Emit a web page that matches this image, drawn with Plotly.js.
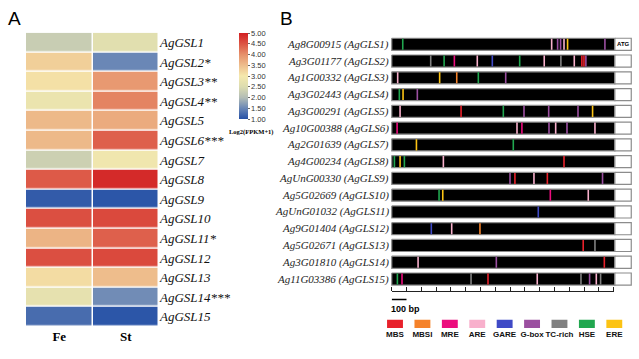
<!DOCTYPE html>
<html><head><meta charset="utf-8">
<script src="https://cdn.plot.ly/plotly-3.0.1.min.js"></script>
<style>html,body{margin:0;padding:0;background:#fff}#chart{width:639px;height:359px}</style>
</head><body><div id="chart"></div>
<script>
const W = 639, H = 359;

// ---- Panel A data ----
const heatGenes = ['AgGSL1','AgGSL2*','AgGSL3**','AgGSL4**','AgGSL5','AgGSL6***','AgGSL7','AgGSL8','AgGSL9','AgGSL10','AgGSL11*','AgGSL12','AgGSL13','AgGSL14***','AgGSL15'];
const samples = ['Fe','St'];
const feValues = [2.25,3.3,3.1,2.8,3.55,3.55,2.3,4.45,1.1,4.55,3.6,4.55,3.15,2.7,1.25];
const stValues = [2.6,1.5,3.9,4.1,3.7,4.4,2.9,4.9,1.05,4.6,4.4,4.6,3.5,1.55,1.05];
const colorTicks = [1,1.5,2,2.5,3,3.5,4,4.5,5];
const colorTitle = 'Log2(FPKM+1)';

// ---- Panel B data ----
const promoterNames = ['Ag8G00915 (AgGLS1)','Ag3G01177 (AgGLS2)','Ag1G00332 (AgGLS3)','Ag3G02443 (AgGLS4)','Ag3G00291 (AgGLS5)','Ag10G00388 (AgGLS6)','Ag2G01639 (AgGLS7)','Ag4G00234 (AgGLS8)','AgUnG00330 (AgGLS9)','Ag5G02669 (AgGLS10)','AgUnG01032 (AgGLS11)','Ag9G01404 (AgGLS12)','Ag5G02671 (AgGLS13)','Ag3G01810 (AgGLS14)','Ag11G03386 (AgGLS15)'];
const promoterLength = 1500;
const startBoxLength = 110;
const motifTypes = ['MBS','MBSI','MRE','ARE','GARE','G-box','TC-rich','HSE','ERE'];
const motifColors = ['#e8212b','#f5822a','#ec0d7e','#f8b0cc','#3f4ac6','#9b4fa0','#808080','#21a74f','#fcc314'];
// sites: gene row (1-15), motif type, position relative to ATG (bp)
const siteGene = [1,1,1,1,1,1,1,
  2,2,2,2,2,2,2,2,2,2,2,2,
  3,3,3,3,3,
  4,4,4,
  5,5,5,5,5,5,5,
  6,6,6,6,6,6,6,
  7,7,
  8,8,8,8,8,
  9,9,9,9,9,
  10,10,10,10,
  11,
  12,12,12,
  13,13,
  14,14,14,
  15,15,15,15,15,15,15,15,15];
const siteType = ['HSE','ARE','G-box','G-box','ARE','ERE','G-box',
  'TC-rich','HSE','MRE','ARE','GARE','HSE','ARE','TC-rich','ARE','MBS','MBS','G-box',
  'ARE','ERE','MBSI','HSE','G-box',
  'HSE','ERE','G-box',
  'ARE','MBS','HSE','G-box','G-box','G-box','ERE',
  'MRE','ARE','MRE','G-box','ARE','G-box','ARE',
  'ERE','HSE',
  'HSE','ERE','HSE','ARE','MBS',
  'G-box','MBS','ARE','MBS','G-box',
  'HSE','ERE','MRE','ARE',
  'GARE',
  'GARE','ARE','MBSI',
  'MBS','TC-rich',
  'ARE','G-box','MBS',
  'HSE','MRE','TC-rich','MBS','ARE','TC-rich','G-box','ARE','TC-rich'];
const sitePos = [-1426,-425,-385,-365,-342,-318,-67,
  -1238,-1148,-1079,-925,-824,-640,-475,-363,-273,-222,-208,-195,
  -1460,-1178,-1063,-918,-734,
  -1449,-1424,-1328,
  -1444,-1034,-750,-611,-445,-248,-150,
  -1464,-658,-625,-443,-398,-322,-134,
  -1334,-683,
  -1482,-1444,-1415,-1153,-342,
  -705,-672,-544,-454,-83,
  -1182,-1157,-434,-179,
  -515,
  -1234,-1097,-907,
  -213,-134,
  -1323,-797,-71,
  -1462,-1431,-967,-853,-522,-228,-170,-125,-96];
const scaleBarBp = 100;

// ---- build traces ----
const px = v => v / W, py = v => 1 - v / H;
const traces = [];

traces.push({
  type:'heatmap', x: samples, y: heatGenes,
  z: heatGenes.map((g,i)=>[feValues[i], stValues[i]]),
  xaxis:'x', yaxis:'y', zmin:1, zmax:5, xgap:1.5, ygap:1.5,
  colorscale: [[0,'#2550a6'],[0.125,'#6a87b6'],[0.25,'#b3bdb6'],[0.375,'#dcdcb0'],[0.5,'#f5e9ad'],[0.625,'#eebd8c'],[0.75,'#e6906a'],[0.875,'#dc5444'],[1,'#d21f22']],
  colorbar: {x: px(239), xanchor:'left', xpad:0, y: py(33), yanchor:'top', ypad:0,
    lenmode:'pixels', len:86, thickness:9, outlinewidth:0,
    tickvals: colorTicks, ticktext: colorTicks.map(v=>v.toFixed(2)),
    tickfont:{family:'Liberation Sans', size:7.5, color:'#333'},
    ticks:'outside', ticklen:2, tickcolor:'#666'},
  hoverinfo:'skip'
});

const rows = promoterNames.map((n,i)=>i+1);
const half = 0.36;
function boxes(x0, x1){
  const xs=[], ys=[];
  rows.forEach(r=>{ xs.push(x0,x1,x1,x0,x0,null); ys.push(r-half,r-half,r+half,r+half,r-half,null); });
  return {xs, ys};
}
const prom = boxes(-promoterLength, 0);
traces.push({type:'scatter', mode:'lines', xaxis:'x2', yaxis:'y2', x:prom.xs, y:prom.ys, fill:'toself',
  fillcolor:'#000', line:{color:'#8c8c8c', width:1.2}, hoverinfo:'skip'});
const start = boxes(0, startBoxLength);
traces.push({type:'scatter', mode:'lines', xaxis:'x2', yaxis:'y2', x:start.xs, y:start.ys, fill:'toself',
  fillcolor:'#fff', line:{color:'#8c8c8c', width:1.2}, hoverinfo:'skip'});

motifTypes.forEach((m,k)=>{
  const xs=[], ys=[];
  siteType.forEach((t,i)=>{ if(t===m){ xs.push(sitePos[i],sitePos[i],null); ys.push(siteGene[i]-half+0.03,siteGene[i]+half-0.03,null);} });
  traces.push({type:'scatter', mode:'lines', xaxis:'x2', yaxis:'y2', x:xs, y:ys,
    line:{color:motifColors[k], width:1.6}, hoverinfo:'skip'});
});

// scale bar
traces.push({type:'scatter', mode:'lines', xaxis:'x3', yaxis:'y3',
  x:[-promoterLength, -promoterLength+scaleBarBp], y:[0.4,0.4], line:{color:'#000', width:1.5}, hoverinfo:'skip'});

// legend swatches
traces.push({type:'bar', xaxis:'x4', yaxis:'y4', x: motifTypes, y: motifTypes.map(()=>1), width:0.58,
  marker:{color: motifColors}, hoverinfo:'skip'});

const annotations = [
  {text:'A', xref:'paper', yref:'paper', x:px(14), y:py(19), xanchor:'center', yanchor:'middle', showarrow:false, font:{size:19, family:'Liberation Sans'}},
  {text:'B', xref:'paper', yref:'paper', x:px(286), y:py(19), xanchor:'center', yanchor:'middle', showarrow:false, font:{size:19, family:'Liberation Sans'}},
  {text:colorTitle, xref:'paper', yref:'paper', x:px(252), y:py(132), xanchor:'center', yanchor:'middle', showarrow:false, font:{size:6.5, family:'Liberation Serif', weight:'bold'}},
  {text:'100 bp', xref:'x3', yref:'paper', x:-promoterLength, xanchor:'left', y:py(309), yanchor:'middle', showarrow:false, xshift:-3, font:{size:9, family:'Liberation Sans', weight:'bold'}},
  {text:'ATG', xref:'x2', yref:'y2', x:startBoxLength/2, y:1, xanchor:'center', yanchor:'middle', showarrow:false, font:{size:6, family:'Liberation Sans', weight:'bold'}}
];
promoterNames.forEach((n,i)=>annotations.push({text:n, xref:'paper', yref:'y2', x:px(389.5), y:rows[i],
  xanchor:'right', yanchor:'middle', showarrow:false, borderpad:0,
  font:{family:'Liberation Serif', size:11, style:'italic', color:'#262626', shadow:'none'}}));

const layout = {
  width: W, height: H, margin:{l:0,r:0,t:0,b:0}, showlegend:false,
  paper_bgcolor:'#fff', plot_bgcolor:'#fff', font:{family:'Liberation Sans', color:'#000'},
  xaxis:{domain:[px(26),px(159)], anchor:'y', ticks:'', showgrid:false, zeroline:false, showline:false,
    tickfont:{family:'Liberation Serif', size:13, weight:'bold', color:'#000'}},
  yaxis:{domain:[py(326.7),py(32.7)], anchor:'x', side:'right', autorange:'reversed', ticks:'', showgrid:false, zeroline:false,
    tickfont:{family:'Liberation Serif', size:13, style:'italic', color:'#111'}},
  xaxis2:{domain:[px(391),px(632)], range:[-1505,115], anchor:'y2', showticklabels:false, ticks:'', showgrid:false, zeroline:false, showline:false},
  yaxis2:{domain:[py(287.4),py(35.9)], range:[15.5,0.5], anchor:'x2', showticklabels:false,
    ticks:'', showgrid:false, zeroline:false, showline:false},
  xaxis3:{domain:[px(391.7),px(613.7)], range:[-promoterLength,0], anchor:'y3', side:'top',
    showline:true, linecolor:'#222', linewidth:1, ticks:'outside', ticklen:4, tickwidth:1, tickcolor:'#222',
    tick0:0, dtick:100, showticklabels:false, showgrid:false, zeroline:false},
  yaxis3:{domain:[py(305),py(291.5)], range:[0,1], anchor:'x3', visible:false},
  xaxis4:{domain:[px(381.3),px(628)], range:[-0.5,8.5], anchor:'y4', type:'category', ticks:'', showline:false, showgrid:false, tickangle:0,
    tickfont:{family:'Liberation Sans', size:8, weight:'bold', color:'#111'}},
  yaxis4:{domain:[py(328),py(319.5)], range:[0,1], anchor:'x4', visible:false},
  annotations: annotations
};

Plotly.newPlot('chart', traces, layout, {displayModeBar:false, staticPlot:true});
</script>
</body></html>
